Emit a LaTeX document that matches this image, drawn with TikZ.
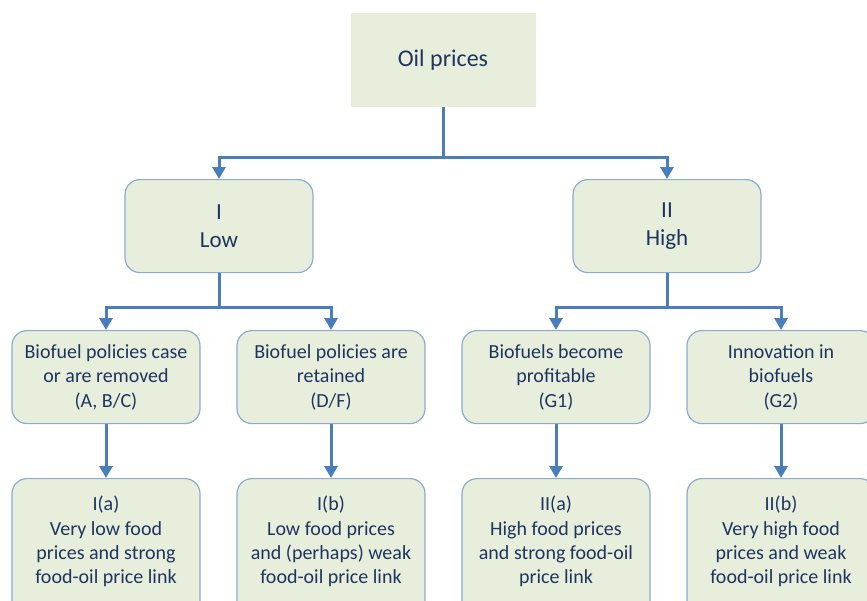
\documentclass[tikz,border=0pt]{standalone}
\usepackage{fontspec}
\setmainfont{Carlito}
\usetikzlibrary{arrows.meta}
\definecolor{boxfill}{HTML}{E7EEDC}
\definecolor{boxline}{HTML}{8DAAD4}
\definecolor{arrowc}{HTML}{4A7EBB}
\definecolor{txt}{HTML}{1F3560}
\tikzset{
  box/.style={draw=boxline, line width=1.2pt, fill=boxfill, rounded corners=15pt,
    minimum width=188pt, minimum height=93pt, anchor=north, align=center,
    text=txt, inner sep=2pt, font=\fontsize{20}{24.5}\selectfont},
  topbox/.style={fill=boxfill, minimum width=185pt, minimum height=94pt, anchor=north,
    text=txt, font=\fontsize{24}{28}\selectfont},
  midbox/.style={box, font=\fontsize{23}{28}\selectfont},
  lbl/.style={text=txt, align=center, anchor=north, inner sep=0pt, font=\fontsize{20}{24.2}\selectfont},
  conn/.style={draw=arrowc, line width=3pt, -{Triangle[width=13pt,length=12pt]}},
}
\begin{document}
\begin{tikzpicture}[x=1pt,y=-1pt]
\useasboundingbox (0,0) rectangle (867,600);
\clip (0,0) rectangle (867,600);
\node[topbox] (oil) at (443,13) {Oil prices};
\node[midbox] (low) at (219,179) {I\\Low};
\node[midbox] (high) at (667,179) {II\\High};
\node[box] (b1) at (106,330) {Biofuel policies case\\or are removed\\(A, B/C)};
\node[box] (b2) at (331,330) {Biofuel policies are\\retained\\(D/F)};
\node[box] (b3) at (556,330) {Biofuels become\\profitable\\(G1)};
\node[box] (b4) at (781,330) {Innovation in\\biofuels\\(G2)};
\node[box, minimum height=140pt] (c1) at (106,478) {};
\node[box, minimum height=140pt] (c2) at (331,478) {};
\node[box, minimum height=140pt] (c3) at (556,478) {};
\node[box, minimum height=140pt] (c4) at (781,478) {};
\node[lbl] (t1) at (106,496) {I(a)\\Very low food\\prices and strong\\food-oil price link};
\node[lbl] (t2) at (331,496) {I(b)\\Low food prices\\and (perhaps) weak\\food-oil price link};
\node[lbl] (t3) at (556,496) {II(a)\\High food prices\\and strong food-oil\\price link};
\node[lbl] (t4) at (781,496) {II(b)\\Very high food\\prices and weak\\food-oil price link};
\coordinate (j0) at (443,157);
\coordinate (j1) at (219,307);
\coordinate (j2) at (667,307);
\draw[conn] (oil.south) -- (j0) -| (low.north);
\draw[conn] (j0) -| (high.north);
\draw[conn] (low.south) -- (j1) -| (b1.north);
\draw[conn] (j1) -| (b2.north);
\draw[conn] (high.south) -- (j2) -| (b3.north);
\draw[conn] (j2) -| (b4.north);
\draw[conn] (b1.south) -- (c1.north);
\draw[conn] (b2.south) -- (c2.north);
\draw[conn] (b3.south) -- (c3.north);
\draw[conn] (b4.south) -- (c4.north);
\end{tikzpicture}
\end{document}
